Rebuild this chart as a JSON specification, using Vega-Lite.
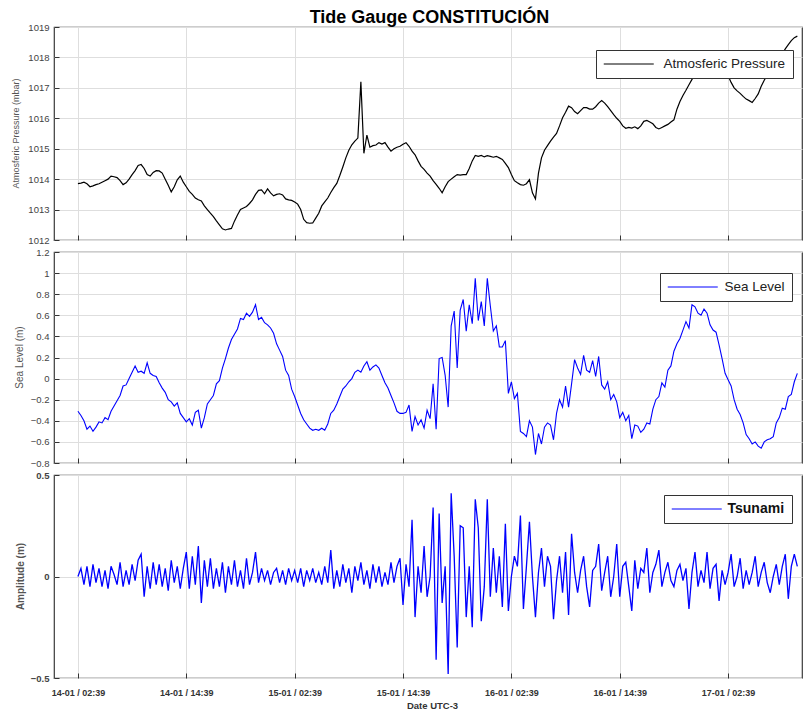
{
 "$schema": "https://vega.github.io/schema/vega-lite/v6.json",
 "background": "white",
 "padding": {"left": 10, "top": 9, "right": 1, "bottom": 5},
 "title": {"text": "Tide Gauge CONSTITUCIÓN", "fontSize": 18, "font": "Liberation Sans", "fontWeight": "bold", "color": "#000000", "anchor": "middle", "offset": -6, "dx": 23},
 "data": {"format": {"parse": {"t": "date:'%d %H:%M'"}}, "values": [
{"t":"14 02:39","p":1013.85,"s":-0.31,"a":0},
{"t":"14 02:59","p":1013.87,"s":-0.35,"a":0.04},
{"t":"14 03:19","p":1013.9,"s":-0.40,"a":-0.04},
{"t":"14 03:39","p":1013.85,"s":-0.48,"a":0.05},
{"t":"14 03:59","p":1013.75,"s":-0.45,"a":-0.05},
{"t":"14 04:19","p":1013.78,"s":-0.50,"a":0.06},
{"t":"14 04:39","p":1013.82,"s":-0.46,"a":-0.03},
{"t":"14 04:59","p":1013.85,"s":-0.41,"a":0.04},
{"t":"14 05:19","p":1013.9,"s":-0.42,"a":-0.05},
{"t":"14 05:39","p":1013.95,"s":-0.37,"a":0.03},
{"t":"14 05:59","p":1014.0,"s":-0.39,"a":-0.06},
{"t":"14 06:19","p":1014.1,"s":-0.31,"a":0.05},
{"t":"14 06:39","p":1014.08,"s":-0.26,"a":0.01},
{"t":"14 06:59","p":1014.05,"s":-0.21,"a":-0.04},
{"t":"14 07:19","p":1013.95,"s":-0.16,"a":0.07},
{"t":"14 07:39","p":1013.82,"s":-0.07,"a":-0.05},
{"t":"14 07:59","p":1013.88,"s":-0.06,"a":0.03},
{"t":"14 08:19","p":1014.0,"s":0.0,"a":-0.04},
{"t":"14 08:39","p":1014.15,"s":0.06,"a":0.06},
{"t":"14 08:59","p":1014.28,"s":0.12,"a":-0.02},
{"t":"14 09:19","p":1014.45,"s":0.06,"a":0.08},
{"t":"14 09:39","p":1014.48,"s":0.07,"a":0.11},
{"t":"14 09:59","p":1014.35,"s":0.05,"a":-0.1},
{"t":"14 10:19","p":1014.15,"s":0.15,"a":0.05},
{"t":"14 10:39","p":1014.1,"s":0.05,"a":-0.06},
{"t":"14 10:59","p":1014.22,"s":0.03,"a":0.07},
{"t":"14 11:19","p":1014.28,"s":0.02,"a":-0.04},
{"t":"14 11:39","p":1014.27,"s":-0.04,"a":0.06},
{"t":"14 11:59","p":1014.2,"s":-0.09,"a":-0.05},
{"t":"14 12:19","p":1014.0,"s":-0.13,"a":0.04},
{"t":"14 12:39","p":1013.8,"s":-0.20,"a":-0.07},
{"t":"14 12:59","p":1013.58,"s":-0.22,"a":0.08},
{"t":"14 13:19","p":1013.75,"s":-0.26,"a":-0.03},
{"t":"14 13:39","p":1013.98,"s":-0.23,"a":0.05},
{"t":"14 13:59","p":1014.1,"s":-0.33,"a":-0.06},
{"t":"14 14:19","p":1013.9,"s":-0.37,"a":0.04},
{"t":"14 14:39","p":1013.75,"s":-0.41,"a":0.12},
{"t":"14 14:59","p":1013.6,"s":-0.38,"a":-0.06},
{"t":"14 15:19","p":1013.5,"s":-0.44,"a":0.1},
{"t":"14 15:39","p":1013.38,"s":-0.32,"a":-0.04},
{"t":"14 15:59","p":1013.32,"s":-0.30,"a":0.15},
{"t":"14 16:19","p":1013.28,"s":-0.47,"a":-0.13},
{"t":"14 16:39","p":1013.12,"s":-0.37,"a":0.08},
{"t":"14 16:59","p":1013.0,"s":-0.24,"a":-0.05},
{"t":"14 17:19","p":1012.88,"s":-0.20,"a":0.09},
{"t":"14 17:39","p":1012.77,"s":-0.16,"a":-0.06},
{"t":"14 17:59","p":1012.63,"s":-0.05,"a":0.04},
{"t":"14 18:19","p":1012.5,"s":-0.02,"a":-0.05},
{"t":"14 18:39","p":1012.37,"s":0.10,"a":0.07},
{"t":"14 18:59","p":1012.33,"s":0.19,"a":-0.08},
{"t":"14 19:19","p":1012.36,"s":0.29,"a":0.05},
{"t":"14 19:39","p":1012.38,"s":0.37,"a":-0.04},
{"t":"14 19:59","p":1012.62,"s":0.42,"a":0.08},
{"t":"14 20:19","p":1012.82,"s":0.47,"a":-0.05},
{"t":"14 20:39","p":1013.0,"s":0.57,"a":0.03},
{"t":"14 20:59","p":1013.05,"s":0.56,"a":-0.06},
{"t":"14 21:19","p":1013.1,"s":0.62,"a":0.09},
{"t":"14 21:39","p":1013.2,"s":0.59,"a":-0.04},
{"t":"14 21:59","p":1013.32,"s":0.63,"a":0.02},
{"t":"14 22:19","p":1013.5,"s":0.70,"a":0.12},
{"t":"14 22:39","p":1013.63,"s":0.56,"a":-0.03},
{"t":"14 22:59","p":1013.65,"s":0.58,"a":0.04},
{"t":"14 23:19","p":1013.52,"s":0.53,"a":-0.02},
{"t":"14 23:39","p":1013.68,"s":0.51,"a":0.03},
{"t":"14 23:59","p":1013.55,"s":0.48,"a":-0.04},
{"t":"15 00:19","p":1013.45,"s":0.43,"a":0.02},
{"t":"15 00:39","p":1013.5,"s":0.33,"a":0.04},
{"t":"15 00:59","p":1013.52,"s":0.27,"a":-0.03},
{"t":"15 01:19","p":1013.48,"s":0.21,"a":0.03},
{"t":"15 01:39","p":1013.35,"s":0.08,"a":-0.04},
{"t":"15 01:59","p":1013.32,"s":0.03,"a":0.04},
{"t":"15 02:19","p":1013.3,"s":-0.10,"a":-0.02},
{"t":"15 02:39","p":1013.25,"s":-0.17,"a":0.03},
{"t":"15 02:59","p":1013.18,"s":-0.25,"a":-0.03},
{"t":"15 03:19","p":1013.0,"s":-0.33,"a":0.04},
{"t":"15 03:39","p":1012.68,"s":-0.39,"a":-0.05},
{"t":"15 03:59","p":1012.57,"s":-0.43,"a":0.03},
{"t":"15 04:19","p":1012.55,"s":-0.47,"a":-0.02},
{"t":"15 04:39","p":1012.56,"s":-0.49,"a":0.04},
{"t":"15 04:59","p":1012.72,"s":-0.48,"a":-0.03},
{"t":"15 05:19","p":1012.88,"s":-0.49,"a":0.02},
{"t":"15 05:39","p":1013.12,"s":-0.47,"a":-0.04},
{"t":"15 05:59","p":1013.25,"s":-0.49,"a":0.05},
{"t":"15 06:19","p":1013.38,"s":-0.43,"a":-0.03},
{"t":"15 06:39","p":1013.56,"s":-0.33,"a":0.13},
{"t":"15 06:59","p":1013.72,"s":-0.30,"a":-0.06},
{"t":"15 07:19","p":1013.86,"s":-0.24,"a":0.03},
{"t":"15 07:39","p":1014.12,"s":-0.17,"a":-0.05},
{"t":"15 07:59","p":1014.4,"s":-0.10,"a":0.06},
{"t":"15 08:19","p":1014.7,"s":-0.07,"a":-0.03},
{"t":"15 08:39","p":1014.95,"s":-0.03,"a":0.04},
{"t":"15 08:59","p":1015.13,"s":0.0,"a":-0.08},
{"t":"15 09:19","p":1015.25,"s":0.06,"a":0.05},
{"t":"15 09:39","p":1015.35,"s":0.08,"a":-0.02},
{"t":"15 09:59","p":1017.2,"s":0.06,"a":0.07},
{"t":"15 10:19","p":1014.85,"s":0.12,"a":-0.04},
{"t":"15 10:39","p":1015.45,"s":0.16,"a":0.03},
{"t":"15 10:59","p":1015.05,"s":0.08,"a":-0.06},
{"t":"15 11:19","p":1015.1,"s":0.11,"a":0.06},
{"t":"15 11:39","p":1015.12,"s":0.13,"a":-0.03},
{"t":"15 11:59","p":1015.2,"s":0.10,"a":0.05},
{"t":"15 12:19","p":1015.15,"s":0.03,"a":-0.05},
{"t":"15 12:39","p":1015.2,"s":-0.04,"a":0.02},
{"t":"15 12:59","p":1015.05,"s":-0.09,"a":-0.04},
{"t":"15 13:19","p":1014.92,"s":-0.16,"a":0.07},
{"t":"15 13:39","p":1015.0,"s":-0.23,"a":-0.03},
{"t":"15 13:59","p":1015.05,"s":-0.31,"a":0.05},
{"t":"15 14:19","p":1015.08,"s":-0.33,"a":0.09},
{"t":"15 14:39","p":1015.15,"s":-0.33,"a":-0.14},
{"t":"15 14:59","p":1015.2,"s":-0.32,"a":0.06},
{"t":"15 15:19","p":1015.08,"s":-0.25,"a":-0.05},
{"t":"15 15:39","p":1014.92,"s":-0.50,"a":0.28},
{"t":"15 15:59","p":1014.8,"s":-0.36,"a":-0.2},
{"t":"15 16:19","p":1014.6,"s":-0.44,"a":0.05},
{"t":"15 16:39","p":1014.42,"s":-0.39,"a":-0.08},
{"t":"15 16:59","p":1014.32,"s":-0.47,"a":0.15},
{"t":"15 17:19","p":1014.2,"s":-0.30,"a":-0.1},
{"t":"15 17:39","p":1014.1,"s":-0.38,"a":0.0},
{"t":"15 17:59","p":1013.95,"s":-0.05,"a":0.34},
{"t":"15 18:19","p":1013.83,"s":-0.48,"a":-0.41},
{"t":"15 18:39","p":1013.7,"s":0.19,"a":0.31},
{"t":"15 18:59","p":1013.55,"s":0.20,"a":-0.13},
{"t":"15 19:19","p":1013.75,"s":0.03,"a":0.05},
{"t":"15 19:39","p":1013.92,"s":-0.27,"a":-0.48},
{"t":"15 19:59","p":1014.0,"s":0.50,"a":0.41},
{"t":"15 20:19","p":1014.08,"s":0.64,"a":0.1},
{"t":"15 20:39","p":1014.15,"s":0.10,"a":-0.35},
{"t":"15 20:59","p":1014.13,"s":0.65,"a":0.25},
{"t":"15 21:19","p":1014.15,"s":0.75,"a":0.24},
{"t":"15 21:39","p":1014.15,"s":0.45,"a":-0.2},
{"t":"15 21:59","p":1014.35,"s":0.70,"a":0.05},
{"t":"15 22:19","p":1014.6,"s":0.52,"a":-0.25},
{"t":"15 22:39","p":1014.78,"s":0.95,"a":0.38},
{"t":"15 22:59","p":1014.75,"s":0.55,"a":0.24},
{"t":"15 23:19","p":1014.78,"s":0.73,"a":-0.22},
{"t":"15 23:39","p":1014.73,"s":0.50,"a":-0.05},
{"t":"15 23:59","p":1014.77,"s":0.95,"a":0.38},
{"t":"16 00:19","p":1014.75,"s":0.69,"a":-0.1},
{"t":"16 00:39","p":1014.72,"s":0.45,"a":0.14},
{"t":"16 00:59","p":1014.75,"s":0.50,"a":-0.08},
{"t":"16 01:19","p":1014.7,"s":0.30,"a":0.1},
{"t":"16 01:39","p":1014.65,"s":0.30,"a":-0.15},
{"t":"16 01:59","p":1014.52,"s":0.36,"a":0.26},
{"t":"16 02:19","p":1014.38,"s":-0.14,"a":-0.17},
{"t":"16 02:39","p":1014.15,"s":-0.03,"a":0.0},
{"t":"16 02:59","p":1013.95,"s":-0.19,"a":0.1},
{"t":"16 03:19","p":1013.88,"s":-0.14,"a":0.05},
{"t":"16 03:39","p":1013.82,"s":-0.50,"a":0.3},
{"t":"16 03:59","p":1013.8,"s":-0.52,"a":-0.16},
{"t":"16 04:19","p":1013.85,"s":-0.55,"a":0.05},
{"t":"16 04:39","p":1013.98,"s":-0.40,"a":0.27},
{"t":"16 04:59","p":1013.55,"s":-0.46,"a":0.0},
{"t":"16 05:19","p":1013.35,"s":-0.72,"a":-0.2},
{"t":"16 05:39","p":1014.2,"s":-0.52,"a":0.02},
{"t":"16 05:59","p":1014.7,"s":-0.62,"a":0.14},
{"t":"16 06:19","p":1014.95,"s":-0.46,"a":-0.05},
{"t":"16 06:39","p":1015.1,"s":-0.42,"a":0.1},
{"t":"16 06:59","p":1015.25,"s":-0.44,"a":0.05},
{"t":"16 07:19","p":1015.38,"s":-0.58,"a":-0.21},
{"t":"16 07:39","p":1015.5,"s":-0.33,"a":-0.02},
{"t":"16 07:59","p":1015.75,"s":-0.20,"a":0.1},
{"t":"16 08:19","p":1016.02,"s":-0.27,"a":-0.08},
{"t":"16 08:39","p":1016.2,"s":-0.07,"a":0.12},
{"t":"16 08:59","p":1016.4,"s":-0.27,"a":-0.19},
{"t":"16 09:19","p":1016.35,"s":-0.05,"a":0.21},
{"t":"16 09:39","p":1016.22,"s":0.18,"a":0.02},
{"t":"16 09:59","p":1016.15,"s":0.10,"a":-0.08},
{"t":"16 10:19","p":1016.25,"s":0.04,"a":0.03},
{"t":"16 10:39","p":1016.35,"s":0.22,"a":0.1},
{"t":"16 10:59","p":1016.35,"s":0.08,"a":-0.05},
{"t":"16 11:19","p":1016.3,"s":0.06,"a":-0.15},
{"t":"16 11:39","p":1016.3,"s":0.17,"a":0.03},
{"t":"16 11:59","p":1016.38,"s":0.02,"a":0.05},
{"t":"16 12:19","p":1016.5,"s":0.21,"a":0.16},
{"t":"16 12:39","p":1016.58,"s":-0.06,"a":-0.07},
{"t":"16 12:59","p":1016.5,"s":-0.10,"a":0.02},
{"t":"16 13:19","p":1016.38,"s":-0.03,"a":0.1},
{"t":"16 13:39","p":1016.25,"s":-0.20,"a":-0.1},
{"t":"16 13:59","p":1016.12,"s":-0.15,"a":0.0},
{"t":"16 14:19","p":1016.0,"s":-0.22,"a":0.16},
{"t":"16 14:39","p":1015.9,"s":-0.37,"a":-0.1},
{"t":"16 14:59","p":1015.75,"s":-0.32,"a":0.05},
{"t":"16 15:19","p":1015.67,"s":-0.40,"a":0.07},
{"t":"16 15:39","p":1015.7,"s":-0.35,"a":-0.05},
{"t":"16 15:59","p":1015.68,"s":-0.57,"a":-0.17},
{"t":"16 16:19","p":1015.72,"s":-0.44,"a":0.08},
{"t":"16 16:39","p":1015.66,"s":-0.45,"a":-0.06},
{"t":"16 16:59","p":1015.75,"s":-0.51,"a":0.04},
{"t":"16 17:19","p":1015.9,"s":-0.48,"a":0.02},
{"t":"16 17:39","p":1015.93,"s":-0.42,"a":0.14},
{"t":"16 17:59","p":1015.88,"s":-0.43,"a":-0.08},
{"t":"16 18:19","p":1015.82,"s":-0.29,"a":0.02},
{"t":"16 18:39","p":1015.7,"s":-0.20,"a":0.06},
{"t":"16 18:59","p":1015.65,"s":-0.17,"a":0.13},
{"t":"16 19:19","p":1015.7,"s":-0.04,"a":-0.05},
{"t":"16 19:39","p":1015.75,"s":-0.08,"a":0.02},
{"t":"16 19:59","p":1015.8,"s":0.08,"a":0.07},
{"t":"16 20:19","p":1015.88,"s":0.12,"a":-0.02},
{"t":"16 20:39","p":1015.95,"s":0.26,"a":-0.05},
{"t":"16 20:59","p":1016.3,"s":0.33,"a":0.03},
{"t":"16 21:19","p":1016.55,"s":0.38,"a":0.06},
{"t":"16 21:39","p":1016.75,"s":0.46,"a":-0.02},
{"t":"16 21:59","p":1016.92,"s":0.54,"a":0.04},
{"t":"16 22:19","p":1017.1,"s":0.48,"a":-0.16},
{"t":"16 22:39","p":1017.28,"s":0.70,"a":0.02},
{"t":"16 22:59","p":1017.42,"s":0.68,"a":0.12},
{"t":"16 23:19","p":1017.52,"s":0.62,"a":-0.05},
{"t":"16 23:39","p":1017.6,"s":0.60,"a":0.03},
{"t":"16 23:59","p":1017.65,"s":0.66,"a":-0.03},
{"t":"17 00:19","p":1017.7,"s":0.62,"a":0.12},
{"t":"17 00:39","p":1017.72,"s":0.51,"a":-0.06},
{"t":"17 00:59","p":1017.75,"s":0.46,"a":0.04},
{"t":"17 01:19","p":1017.75,"s":0.44,"a":0.06},
{"t":"17 01:39","p":1017.7,"s":0.32,"a":-0.12},
{"t":"17 01:59","p":1017.62,"s":0.19,"a":0.03},
{"t":"17 02:19","p":1017.52,"s":0.05,"a":-0.04},
{"t":"17 02:39","p":1017.4,"s":-0.01,"a":0.02},
{"t":"17 02:59","p":1017.18,"s":-0.07,"a":0.11},
{"t":"17 03:19","p":1017.0,"s":-0.20,"a":-0.05},
{"t":"17 03:39","p":1016.9,"s":-0.29,"a":0.0},
{"t":"17 03:59","p":1016.82,"s":-0.34,"a":0.09},
{"t":"17 04:19","p":1016.72,"s":-0.42,"a":-0.06},
{"t":"17 04:39","p":1016.63,"s":-0.53,"a":0.03},
{"t":"17 04:59","p":1016.58,"s":-0.57,"a":-0.04},
{"t":"17 05:19","p":1016.52,"s":-0.62,"a":0.02},
{"t":"17 05:39","p":1016.65,"s":-0.60,"a":0.1},
{"t":"17 05:59","p":1016.8,"s":-0.64,"a":-0.05},
{"t":"17 06:19","p":1017.05,"s":-0.66,"a":0.02},
{"t":"17 06:39","p":1017.25,"s":-0.60,"a":0.07},
{"t":"17 06:59","p":1017.42,"s":-0.58,"a":-0.03},
{"t":"17 07:19","p":1017.55,"s":-0.57,"a":-0.08},
{"t":"17 07:39","p":1017.7,"s":-0.55,"a":0.0},
{"t":"17 07:59","p":1017.85,"s":-0.42,"a":0.06},
{"t":"17 08:19","p":1017.98,"s":-0.37,"a":-0.04},
{"t":"17 08:39","p":1018.12,"s":-0.28,"a":0.05},
{"t":"17 08:59","p":1018.28,"s":-0.29,"a":0.11},
{"t":"17 09:19","p":1018.42,"s":-0.17,"a":-0.11},
{"t":"17 09:39","p":1018.55,"s":-0.15,"a":0.05},
{"t":"17 09:59","p":1018.65,"s":-0.03,"a":0.11},
{"t":"17 10:19","p":1018.7,"s":0.05,"a":0.05}
 ]},
 "spacing": 12,
 "bounds": "flush",
 "resolve": {"scale": {"stroke": "independent", "y": "independent"}, "legend": {"stroke": "independent"}},
 "vconcat": [
  {
   "width": 748, "height": 213,
   "mark": {"type": "line", "strokeWidth": 1.2},
   "encoding": {
    "x": {"field": "t", "type": "temporal",
     "scale": {"domain": [{"year": 1900, "month": 1, "date": 14, "hours": 0, "minutes": 0}, {"year": 1900, "month": 1, "date": 17, "hours": 10, "minutes": 50}]},
     "axis": {"title": null, "labels": false, "tickSize": -5,
      "values": [{"year": 1900, "month": 1, "date": 14, "hours": 2, "minutes": 39}, {"year": 1900, "month": 1, "date": 14, "hours": 14, "minutes": 39}, {"year": 1900, "month": 1, "date": 15, "hours": 2, "minutes": 39}, {"year": 1900, "month": 1, "date": 15, "hours": 14, "minutes": 39}, {"year": 1900, "month": 1, "date": 16, "hours": 2, "minutes": 39}, {"year": 1900, "month": 1, "date": 16, "hours": 14, "minutes": 39}, {"year": 1900, "month": 1, "date": 17, "hours": 2, "minutes": 39}]}},
    "y": {"field": "p", "type": "quantitative",
     "scale": {"domain": [1012, 1019], "nice": false, "zero": false},
     "axis": {"title": "Atmosferic Pressure (mbar)", "values": [1012, 1013, 1014, 1015, 1016, 1017, 1018, 1019], "format": "d",
      "labelFontSize": 9.5, "tickSize": -5, "labelPadding": 10,
      "titleFontSize": 9, "titleFontWeight": "normal", "titleX": -39, "titleY": 106, "titleAngle": -90, "titleAlign": "center", "titleBaseline": "middle"}},
    "stroke": {"datum": "Atmosferic Pressure", "type": "nominal", "scale": {"range": ["#000000"]},
     "legend": {"orient": "none", "legendX": 542, "legendY": 23, "title": null, "symbolType": "M-4,0H4", "symbolSize": 156.25, "symbolOffset": 18.75, "symbolStrokeWidth": 1, "symbolStrokeColor": "#000000", "labelFontSize": 13.5, "labelOffset": 27.75, "padding": 7, "fillColor": "#ffffff", "strokeColor": "#333333", "labelColor": "#222222", "labelFont": "Liberation Sans"}}
   }
  },
  {
   "width": 748, "height": 211,
   "mark": {"type": "line", "strokeWidth": 1.1},
   "encoding": {
    "x": {"field": "t", "type": "temporal",
     "scale": {"domain": [{"year": 1900, "month": 1, "date": 14, "hours": 0, "minutes": 0}, {"year": 1900, "month": 1, "date": 17, "hours": 10, "minutes": 50}]},
     "axis": {"title": null, "labels": false, "tickSize": -5,
      "values": [{"year": 1900, "month": 1, "date": 14, "hours": 2, "minutes": 39}, {"year": 1900, "month": 1, "date": 14, "hours": 14, "minutes": 39}, {"year": 1900, "month": 1, "date": 15, "hours": 2, "minutes": 39}, {"year": 1900, "month": 1, "date": 15, "hours": 14, "minutes": 39}, {"year": 1900, "month": 1, "date": 16, "hours": 2, "minutes": 39}, {"year": 1900, "month": 1, "date": 16, "hours": 14, "minutes": 39}, {"year": 1900, "month": 1, "date": 17, "hours": 2, "minutes": 39}]}},
    "y": {"field": "s", "type": "quantitative",
     "scale": {"domain": [-0.8, 1.2], "nice": false, "zero": false},
     "axis": {"title": "Sea Level (m)", "values": [-0.8, -0.6, -0.4, -0.2, 0, 0.2, 0.4, 0.6, 0.8, 1, 1.2], "format": ".1~f",
      "labelFontSize": 9.5, "tickSize": -5, "labelPadding": 10,
      "titleFontSize": 10, "titleFontWeight": "normal", "titleX": -35, "titleY": 105, "titleAngle": -90, "titleAlign": "center", "titleBaseline": "middle"}},
    "stroke": {"datum": "Sea Level", "type": "nominal", "scale": {"range": ["#0000ff"]},
     "legend": {"orient": "none", "legendX": 606, "legendY": 21, "title": null, "symbolType": "M-4,0H4", "symbolSize": 156.25, "symbolOffset": 18.75, "symbolStrokeWidth": 1, "symbolStrokeColor": "#0000ff", "labelFontSize": 13.5, "labelOffset": 24.75, "padding": 7, "fillColor": "#ffffff", "strokeColor": "#333333", "labelColor": "#222222", "labelFont": "Liberation Sans"}}
   }
  },
  {
   "width": 748, "height": 203,
   "mark": {"type": "line", "strokeWidth": 1.3},
   "encoding": {
    "x": {"field": "t", "type": "temporal",
     "scale": {"domain": [{"year": 1900, "month": 1, "date": 14, "hours": 0, "minutes": 0}, {"year": 1900, "month": 1, "date": 17, "hours": 10, "minutes": 50}]},
     "axis": {"title": "Date UTC-3", "format": "%d-%m / %H:%M", "tickSize": -5, "labelPadding": 15,
      "labelFontSize": 9, "labelFontWeight": "bold", "labelColor": "#333333",
      "titleFontSize": 9.5, "titleFontWeight": "bold", "titleColor": "#333333", "titleX": 378, "titleY": 22, "titleAlign": "center", "titleBaseline": "top",
      "values": [{"year": 1900, "month": 1, "date": 14, "hours": 2, "minutes": 39}, {"year": 1900, "month": 1, "date": 14, "hours": 14, "minutes": 39}, {"year": 1900, "month": 1, "date": 15, "hours": 2, "minutes": 39}, {"year": 1900, "month": 1, "date": 15, "hours": 14, "minutes": 39}, {"year": 1900, "month": 1, "date": 16, "hours": 2, "minutes": 39}, {"year": 1900, "month": 1, "date": 16, "hours": 14, "minutes": 39}, {"year": 1900, "month": 1, "date": 17, "hours": 2, "minutes": 39}]}},
    "y": {"field": "a", "type": "quantitative",
     "scale": {"domain": [-0.5, 0.5], "nice": false, "zero": false},
     "axis": {"title": "Amplitude (m)", "values": [-0.5, 0, 0.5], "format": "~g",
      "labelFontSize": 9.5, "labelFontWeight": "bold", "tickSize": -5, "labelPadding": 10,
      "titleFontSize": 10, "titleFontWeight": "bold", "titleX": -34, "titleY": 101, "titleAngle": -90, "titleAlign": "center", "titleBaseline": "middle"}},
    "stroke": {"datum": "Tsunami", "type": "nominal", "scale": {"range": ["#0000ff"]},
     "legend": {"orient": "none", "legendX": 610, "legendY": 20, "title": null, "symbolType": "M-4,0H4", "symbolSize": 156.25, "symbolOffset": 18.75, "symbolStrokeWidth": 1, "symbolStrokeColor": "#0000ff", "labelFontSize": 14, "labelFontWeight": "bold", "labelOffset": 23.75, "padding": 7, "fillColor": "#ffffff", "strokeColor": "#333333", "labelColor": "#111111", "labelFont": "Liberation Sans"}}
   }
  }
 ],
 "config": {
  "view": {"stroke": "#3a3a3a", "strokeWidth": 1.2},
  "axis": {"gridColor": "#dedede", "gridWidth": 1, "domain": false, "tickColor": "#333333", "tickWidth": 1, "labelFont": "Liberation Sans", "titleFont": "Liberation Sans", "labelColor": "#444444", "titleColor": "#555555"}
 }
}
